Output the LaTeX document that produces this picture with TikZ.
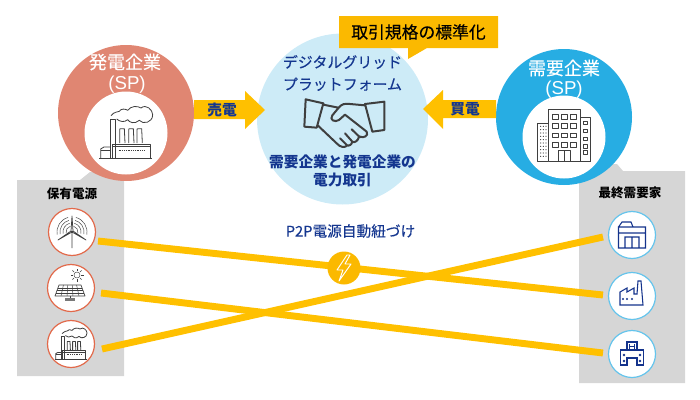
\documentclass[tikz,border=0pt]{standalone}
\usepackage{fontspec}
\setmainfont{Noto Sans CJK JP}
\newfontfamily\medfont[FakeBold=.25]{Noto Sans CJK JP}
\newfontfamily\latinfont{Liberation Sans}
\usetikzlibrary{arrows.meta}
\definecolor{salmon}{HTML}{E08672}
\definecolor{salmonline}{HTML}{E2694A}
\definecolor{skyb}{HTML}{27ADE3}
\definecolor{paleb}{HTML}{CDEBF7}
\definecolor{ylw}{HTML}{FFC000}
\definecolor{ylwb}{HTML}{FBB900}
\definecolor{navy}{HTML}{14368F}
\definecolor{panelg}{HTML}{D6D6D6}
\definecolor{icong}{HTML}{3F3F3F}
\definecolor{iconb}{HTML}{14338C}
\definecolor{ringb}{HTML}{64C4EC}
\newcommand{\fpx}[2]{\fontsize{#1pt}{#2pt}\selectfont}
\tikzset{
 disc/.style={circle,inner sep=0pt,minimum size=#1*.75pt},
 bigdisc/.style={disc=136},
 reddisc/.style={bigdisc,fill=salmon},
 bluedisc/.style={bigdisc,fill=skyb},
 whitedisc/.style={disc=83,fill=white},
 ringr/.style={disc=47,fill=white,draw=salmonline,line width=.9pt},
 ringbl/.style={disc=47,fill=white,draw=ringb,line width=.9pt},
 panel/.style={fill=panelg},
 flowline/.style={draw=ylw,line width=5.2pt},
 blockarrow/.style={fill=ylw},
 title/.style={text=white,font=\fpx{13.5}{16}\medfont},
 sptitle/.style={text=white,font=\fpx{14}{16}\latinfont},
 navylabel/.style={text=navy,font=\fpx{11}{14}\bfseries,align=center},
 paneltitle/.style={text=black,font=\fpx{9.4}{12}\bfseries},
 iconline/.style={draw=icong,line width=.6pt,line join=round},
 iconthin/.style={draw=icong,line width=.35pt,line join=round},
 iconblue/.style={draw=iconb,line width=.8pt,line join=miter},
}
% drawn in 3x zoom pixels around the icon centre
\newcommand{\plant}[3]{%
 \begin{scope}[shift={(#1,#2)},x=#3*.25pt,y=-#3*.25pt]
  \draw[iconline] (-81,75)--(79,75);
  \draw[iconline] (-48,75)--(-48,-40)--(-31,-40)--(-31,75);
  \draw[iconline] (-19,30)--(-19,-12)--(-14,-13)--(-5,-13)--(-3,30);
  \draw[iconline] (8,30)--(8,-12)--(13,-13)--(22,-13)--(24,30);
  \draw[iconline] (33,30)--(33,-12)--(38,-13)--(47,-13)--(49,30);
  \draw[iconline] (-41,75)--(-41,33)--(72,33)--(72,75);
  \draw[iconline] (-41,40)--(72,40);
  \draw[iconline] (-48,42)--(-66,42)--(-76,48)--(-76,75);
  \draw[iconline] (-76,52)--(-48,52);
  \draw[iconthin,densely dotted,line width=#3*1pt] (-22,53)--(56,53);
  \draw[iconline] (-45,-52) .. controls (-35,-65) and (-25,-62) .. (-20,-65) .. controls (-15,-75) and (0,-72) .. (5,-68) .. controls (15,-82) and (35,-82) .. (45,-75)
   .. controls (60,-88) and (80,-70) .. (80,-55) .. controls (80,-30) and (50,-25) .. (40,-38) .. controls (25,-25) and (10,-32) .. (5,-40) .. controls (-5,-30) and (-20,-35) .. (-28,-42);
 \end{scope}}
\begin{document}
\begin{tikzpicture}[x=.75pt,y=-.75pt]
\useasboundingbox (0,0) rectangle (700,400);
% grey panels
\path[panel] (17,180)--(80,180)--(90,172)--(124,172)--(124,376)--(17,376)--cycle;
\path[panel] (579,171)--(579,383)--(685,383)--(685,171)--(623,171)--(617,164)--(590,164)--cycle;
% main discs
\node[reddisc]  (gen) at (126,113) {};
\node[bluedisc] (dem) at (564,117) {};
\node[disc=171,fill=paleb] (hub) at (342.5,119) {};
\node[whitedisc] (genw) at (126,133) {};
\node[whitedisc] (demw) at (564,137) {};
% labels
\node[title] (gent) at (125,62) {発電企業};
\node[sptitle] (gens) at (127,85) {(SP)};
\node[title] (demt) at (564,68) {需要企業};
\node[sptitle] (dems) at (564,90) {(SP)};
\node[text=navy,font=\fpx{11.2}{16.5}\medfont,align=center] (hubt) at (342.5,73) {デジタルグリッド\\プラットフォーム};
\node[navylabel] (hubb) at (342.5,171) {需要企業と発電企業の\\電力取引};
% block arrows
\path[blockarrow] (194,100)--(245,100)--(245,91)--(265,110)--(245,129)--(245,119)--(194,119)--cycle;
\path[blockarrow] (496,100)--(443,100)--(443,90)--(423,109)--(443,129)--(443,118)--(496,118)--cycle;
\node[navylabel] (sell) at (222,110) {売電};
\node[navylabel] (buy) at (465,109) {買電};
% callout
\path[fill=ylwb] (339,16)--(498,16)--(498,48)--(427,48)--(408,59)--(408,48)--(339,48)--cycle;
\node[font=\fpx{12.6}{16}\medfont,text=black] (std) at (418.5,32) {取引規格の標準化};
% panel titles
\node[paneltitle] (own) at (72,194) {保有電源};
\node[paneltitle] (end) at (630,193) {最終需要家};
% P2P label
\node[text=navy,font=\fpx{11}{13}\medfont] (p2p) at (350.5,231) {P2P電源自動紐づけ};
% end points of the links
\coordinate (a1) at (98,241); \coordinate (b1) at (603,295);
\coordinate (a2) at (101,293); \coordinate (b2) at (603,353);
\coordinate (a3) at (102,349); \coordinate (b3) at (603,237);
\draw[flowline] (a1)--(b1);
\draw[flowline] (a2)--(b2);
\draw[flowline] (a3)--(b3);
% bolt
\node[disc=33,fill=ylwb] (bolt) at (344,268) {};
\begin{scope}[shift={(bolt.center)}]
 \draw[white,line width=.7pt,line join=round] (3,-13)--(-7,2)--(-1,2)--(-5,13)--(7,-4)--(1,-4)--(6,-13)--cycle;
\end{scope}
% small discs
\node[ringr] (wind) at (72,232) {};
\node[ringr] (solar) at (71,288) {};
\node[ringr] (therm) at (71,344) {};
\node[ringbl] (shop) at (632,235) {};
\node[ringbl] (fact) at (632,296) {};
\node[ringbl] (hosp) at (632,354) {};
% plant icons
\plant{126}{133}{1}
\plant{71}{344}{.6}
% handshake
\begin{scope}[shift={(295,90)},x=.25pt,y=-.25pt]
 \draw[draw=icong,line width=1.5pt,line join=round,line cap=round]
  (32,28)--(85,40)--(65,113)--(28,110)--cycle
  (210,42)--(268,35)--(268,120)--(232,125)--cycle
  (85,44)--(130,53)
  (210,46)--(165,42) .. controls (150,40) and (140,42) .. (132,52)--(112,76) .. controls (102,90) and (120,98) .. (132,90)--(150,74)--(215,125) .. controls (222,138) and (205,145) .. (195,140)
  (68,106)--(125,160) .. controls (135,172) and (150,175) .. (158,165)
  (195,142)--(170,118)
  (192,140) .. controls (190,152) and (178,160) .. (172,155)--(150,130)
  (172,155) .. controls (170,165) and (160,170) .. (155,165)--(135,145);
\end{scope}
% building
\begin{scope}[shift={(564,137)},x=.25pt,y=-.25pt]
 \draw[iconline] (-47,-82) rectangle (48,72);
 \foreach \yy in {-68,-40,-12,16}
  \foreach \xx in {-34,-7,20} \draw[iconline] (\xx,\yy) rectangle ++(16,14);
 \draw[iconline] (-17,72)--(-17,40)--(18,40)--(18,72) (0,40)--(0,72);
 \draw[iconline] (48,-58)--(80,-58)--(80,72) (48,72)--(80,72);
 \foreach \yy in {-48,-24,0,22,40} \draw[iconline] (58,\yy) rectangle ++(11,11);
 \draw[iconline] (-47,-40)--(-80,-40)--(-80,72)--(-47,72);
 \foreach \yy in {-32,-22,...,60} \foreach \xx in {-70,-62,-54} \fill[icong] (\xx,\yy) circle (1.9);
\end{scope}
% wind turbine
\begin{scope}[shift={(wind.center)}]
 \draw[iconthin,line width=.55pt] (0,0)--(0,16) (0,0)--(-1,-1)--(0,-16)--(1,-1)--cycle
  (0,0)--(-14,8)--(-1,-1) (0,0)--(14,8)--(1,-1);
 \foreach \rr in {6,9,12,15}{
  \draw[iconthin] (-\rr*.26,-\rr*.97) arc[start angle=-105,end angle=-190,radius=\rr];
  \draw[iconthin] (\rr*.26,-\rr*.97) arc[start angle=-75,end angle=10,radius=\rr];
 }
\end{scope}
% solar panel
\begin{scope}[shift={(solar.center)}]
 \draw[iconthin,line width=.5pt] (-12,-3)--(10,-3)--(14,8)--(-16,8)--cycle;
 \foreach \t in {.25,.5,.75} \draw[iconthin] ({-12-4*\t},{-3+11*\t})--({10+4*\t},{-3+11*\t});
 \foreach \t in {.2,.4,.6,.8} \draw[iconthin] ({-12+22*\t},-3)--({-16+30*\t},8);
 \draw[iconthin] (-1,8)--(-1,10);
 \fill[icong!70] (-6,10) rectangle (4,13);
 \draw[iconthin] (6,-13) circle (3);
 \foreach \a in {0,45,...,315} \draw[iconthin] (6,-13) ++(\a:4.2)--++(\a:2.3);
\end{scope}
% customer icons
\begin{scope}[shift={(shop.center)}]
 \draw[iconblue] (-13.5,-8)--(-13.5,13)--(13.5,13)--(13.5,-8)--cycle
  (-13.5,-2)--(13.5,-2)
  (-13.5,-8)--(-10,-13)--(-1,-13)--(1,-8)
  (-7,13)--(-7,2)--(7,2)--(7,13) (0,2)--(0,13);
\end{scope}
\begin{scope}[shift={(fact.center)}]
 \draw[iconblue] (-12,9)--(-12,-4)--(-5,-8)--(-5,-4)--(2,-8)--(2,-2)--(5,-2)--(6,-15)--(9,-15)--(11,9)--cycle;
 \foreach \xx in {-9,-5,0} \fill[iconb] (\xx,3) circle (1.2);
\end{scope}
\begin{scope}[shift={(hosp.center)}]
 \draw[iconblue] (-5,-4)--(-5,-12)--(5,-12)--(5,-4);
 \draw[iconblue,line width=.55pt] (-2.5,-10)--(-2.5,-5) (2.5,-10)--(2.5,-5) (-2.5,-7.5)--(2.5,-7.5);
 \draw[iconblue] (-11.5,-4)--(11.5,-4)--(11.5,11)--(5,11)--(5,4)--(-5,4)--(-5,11)--(-11.5,11)--cycle;
 \foreach \xx/\yy in {-8/1,8/1,-8/7,8/7} \fill[iconb] (\xx,\yy) circle (1.4);
\end{scope}
\end{tikzpicture}
\end{document}
